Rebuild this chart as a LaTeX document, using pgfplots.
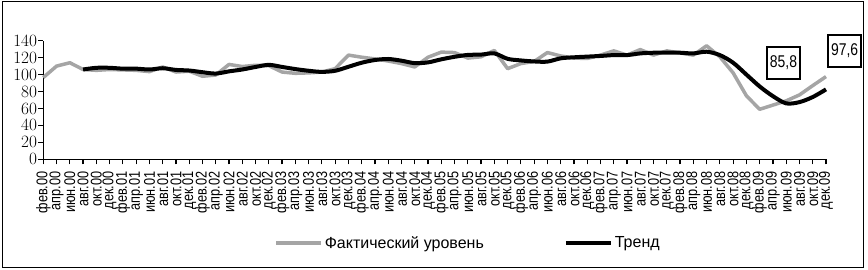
\documentclass[border=0pt]{standalone}
\usepackage{fontspec}
\setmainfont{Liberation Sans}
\newfontfamily\narrow{Liberation Sans}[FakeStretch=0.82]
\usepackage{pgfplots}
\usepackage{pgfplotstable}
\pgfplotsset{compat=1.18}
\definecolor{gline}{RGB}{165,165,165}

\pgfplotstableread{
x y
0 96.5
1 110
2 114
3 106
4 105
5 106
6 105.5
7 105
8 103.5
9 109
10 103
11 104
12 98
13 99.5
14 112
15 109.5
16 111
17 110.5
18 103
19 101.5
20 102
21 103
22 107
23 123
24 120.5
25 118.5
26 116
27 113
28 109
29 120.5
30 126.5
31 126
32 119.5
33 121
34 128.5
35 107
36 113
37 115.5
38 126
39 122
40 119.5
41 119
42 123
43 128
44 123
45 129.5
46 123
47 128
48 125.5
49 123
50 134
51 121
52 102
53 75
54 59
55 64
56 69
57 76
58 87
59 97.6
}\fakt

\pgfplotstableread{
x y
3 106
4 108
5 108
6 107
7 107
8 106
9 107.5
10 105.5
11 104.8
12 102.8
13 101.2
14 103.8
15 106
16 109
17 111.5
18 109
19 106.5
20 104.5
21 103.2
22 104.5
23 109.2
24 114
25 117.2
26 118.4
27 116.4
28 113.5
29 114.4
30 118
31 121
32 123.2
33 123.6
34 125
35 118.6
36 116.7
37 115.5
38 115.3
39 119.2
40 120.4
41 121.2
42 122
43 123
44 123
45 125
46 125.8
47 126
48 125.8
49 125
50 127
51 123
52 114
53 100
54 86
55 74.5
56 66
57 67.5
58 73.5
59 82.5
}\trend

\begin{document}
\begin{tikzpicture}
\path (0pt,0pt) rectangle (868pt,270pt);
\draw[line width=1.5pt] (2.5pt,2.3pt) rectangle (863.5pt,268.3pt);
\begin{axis}[
  at={(43.3pt,110.7pt)}, anchor=origin,
  scale only axis, width=782.7pt, height=118.6pt,
  xmin=0, xmax=59, ymin=0, ymax=140,
  axis x line=bottom, axis y line=left,
  axis line style={-, line width=1.2pt},
  xtick={0,...,59},
  xticklabels={фев.00,апр.00,июн.00,авг.00,окт.00,дек.00,
    фев.01,апр.01,июн.01,авг.01,окт.01,дек.01,
    фев.02,апр.02,июн.02,авг.02,окт.02,дек.02,
    фев.03,апр.03,июн.03,авг.03,окт.03,дек.03,
    фев.04,апр.04,июн.04,авг.04,окт.04,дек.04,
    фев.05,апр.05,июн.05,авг.05,окт.05,дек.05,
    фев.06,апр.06,июн.06,авг.06,окт.06,дек.06,
    фев.07,апр.07,июн.07,авг.07,окт.07,дек.07,
    фев.08,апр.08,июн.08,авг.08,окт.08,дек.08,
    фев.09,апр.09,июн.09,авг.09,окт.09,дек.09},
  xticklabel style={rotate=90, anchor=east, inner sep=1pt, font=\narrow\fontsize{15.5}{15.5}\selectfont},
  xticklabel shift=6pt,
  ytick={0,20,...,140},
  yticklabel style={inner sep=1pt, font=\narrow\fontsize{16.5}{16.5}\selectfont},
  tick align=outside, major tick length=5pt,
  tick style={black, line width=1.2pt},
  clip=false,
  legend style={at={(0.5426,-0.706)}, anchor=center, draw=none, fill=none,
    legend columns=2, font=\fontsize{16}{16}\selectfont,
    /tikz/every even column/.append style={column sep=78pt}},
  legend image code/.code={\draw[#1] (0pt,0pt) -- (45pt,0pt);},
]
\addplot[gline, line width=3.5pt, line join=round] table[x=x,y=y]{\fakt};
\addlegendentry{Фактический уровень}
\addplot[black, line width=4pt, smooth, line join=round] table[x=x,y=y]{\trend};
\addlegendentry{Тренд}
\node[draw, line width=1.5pt, minimum width=33pt, minimum height=32pt, inner sep=0pt, fill=white,
  font=\narrow\fontsize{17}{17}\selectfont] at (axis cs:55.8,113.7) {85,8};
\node[draw, line width=1.5pt, minimum width=33pt, minimum height=32pt, inner sep=0pt, fill=white,
  font=\narrow\fontsize{17}{17}\selectfont] at (axis cs:60.4,127.9) {97,6};
\end{axis}
\end{tikzpicture}
\end{document}
